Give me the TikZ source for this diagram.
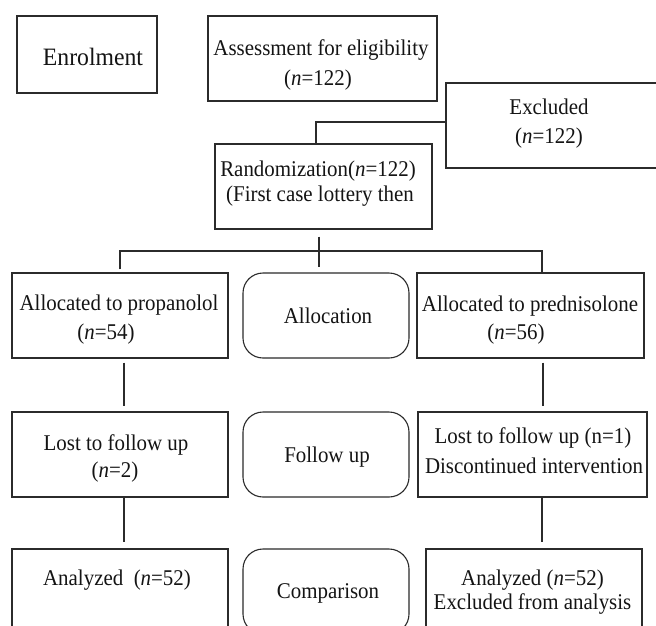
\documentclass[tikz,border=0pt]{standalone}
\usepackage{fontspec}
\setmainfont{Liberation Serif}
\definecolor{linec}{HTML}{2B2B2B}
\definecolor{textc}{HTML}{141414}
\begin{document}
\begin{tikzpicture}[x=1pt,y=-1pt,
  box/.style={draw=linec, line width=1.1pt, rectangle, inner sep=0pt},
  rbox/.style={box, rounded corners=20pt},
  conn/.style={draw=linec, line width=1.1pt},
  txt/.style={font=\fontsize{22.5}{27}\selectfont, text=textc, anchor=base, inner sep=0pt, xscale=0.93, transform shape},
  bigtxt/.style={txt, font=\fontsize{25}{30}\selectfont, xscale=1.02}]
\useasboundingbox (0,0) rectangle (656,625);
\clip (0,0) rectangle (656,625);
\fill[white] (0,0) rectangle (656,625);

% boxes
\node[box, minimum width=140pt, minimum height=77pt] (enrol) at (87,54.5) {};
\node[box, minimum width=229pt, minimum height=85pt] (assess) at (322.5,58.5) {};
\node[box, minimum width=254pt, minimum height=85pt] (excl) at (573,125.5) {};
\node[box, minimum width=217pt, minimum height=85pt] (rand) at (323.5,186.5) {};

\node[box, minimum width=216pt, minimum height=85pt] (alloc1) at (120,315.5) {};
\node[rbox, minimum width=166pt, minimum height=85pt] (allocr) at (326,315.5) {};
\node[box, minimum width=227pt, minimum height=85pt] (alloc2) at (530.5,315.5) {};

\node[box, minimum width=216pt, minimum height=85pt] (lost1) at (120,454.5) {};
\node[rbox, minimum width=166pt, minimum height=85pt] (follow) at (326,454.5) {};
\node[box, minimum width=229pt, minimum height=85pt] (lost2) at (532.5,454.5) {};

\node[box, minimum width=216pt, minimum height=85pt] (ana1) at (120,591.5) {};
\node[rbox, minimum width=166pt, minimum height=85pt] (comp) at (326,591.5) {};
\node[box, minimum width=216pt, minimum height=85pt] (ana2) at (534,591.5) {};

% texts
\node[bigtxt] (tenrol) at (93,65) {Enrolment};
\node[txt] (tassess1) at (321,55) {Assessment for eligibility};
\node[txt] (tassess2) at (318,85) {(\textit{n}=122)};
\node[txt] (texcl1) at (549,114) {Excluded};
\node[txt] (texcl2) at (549,143) {(\textit{n}=122)};
\node[txt] (trand1) at (318,176) {Randomization(\textit{n}=122)};
\node[txt] (trand2) at (320,201) {(First case lottery then};

\node[txt] (ta11) at (119,310) {Allocated to propanolol};
\node[txt] (ta12) at (106,339) {(\textit{n}=54)};
\node[txt] (tar) at (328,323) {Allocation};
\node[txt] (ta21) at (530,311) {Allocated to prednisolone};
\node[txt] (ta22) at (516,339) {(\textit{n}=56)};

\node[txt] (tl11) at (116,450) {Lost to follow up};
\node[txt] (tl12) at (115,477) {(\textit{n}=2)};
\node[txt] (tfol) at (327,462) {Follow up};
\node[txt] (tl21) at (533,443) {Lost to follow up (n=1)};
\node[txt] (tl22) at (534,473) {Discontinued intervention};

\node[txt] (tan1) at (117,585) {Analyzed\ \ (\textit{n}=52)};
\node[txt] (tcomp) at (328,598) {Comparison};
\node[txt] (tan21) at (532.5,585) {Analyzed (\textit{n}=52)};
\node[txt] (tan22) at (532.5,609) {Excluded from analysis};

% connectors
\draw[conn] ([yshift=3.5pt]excl.west) -| ([xshift=-7.5pt]rand.north);

\coordinate (brend) at (319,267);
\coordinate (hl) at (120,251);
\coordinate (hr) at (542,251);
\draw[conn] ([xshift=-4.5pt,yshift=-7pt]rand.south) -- (brend);
\draw[conn] ([yshift=3pt]alloc1.north) -- (hl) -- (hr) -- ([xshift=11.5pt,yshift=-2pt]alloc2.north);

\draw[conn] ([xshift=4pt,yshift=-4pt]alloc1.south) -- ([xshift=4pt,yshift=5pt]lost1.north);
\draw[conn] ([xshift=12.5pt,yshift=-4pt]alloc2.south) -- ([xshift=10.5pt,yshift=5pt]lost2.north);
\draw[conn] ([xshift=4pt]lost1.south) -- ([xshift=4pt,yshift=6pt]ana1.north);
\draw[conn] ([xshift=9.5pt]lost2.south) -- ([xshift=8pt,yshift=6pt]ana2.north);
\end{tikzpicture}
\end{document}
